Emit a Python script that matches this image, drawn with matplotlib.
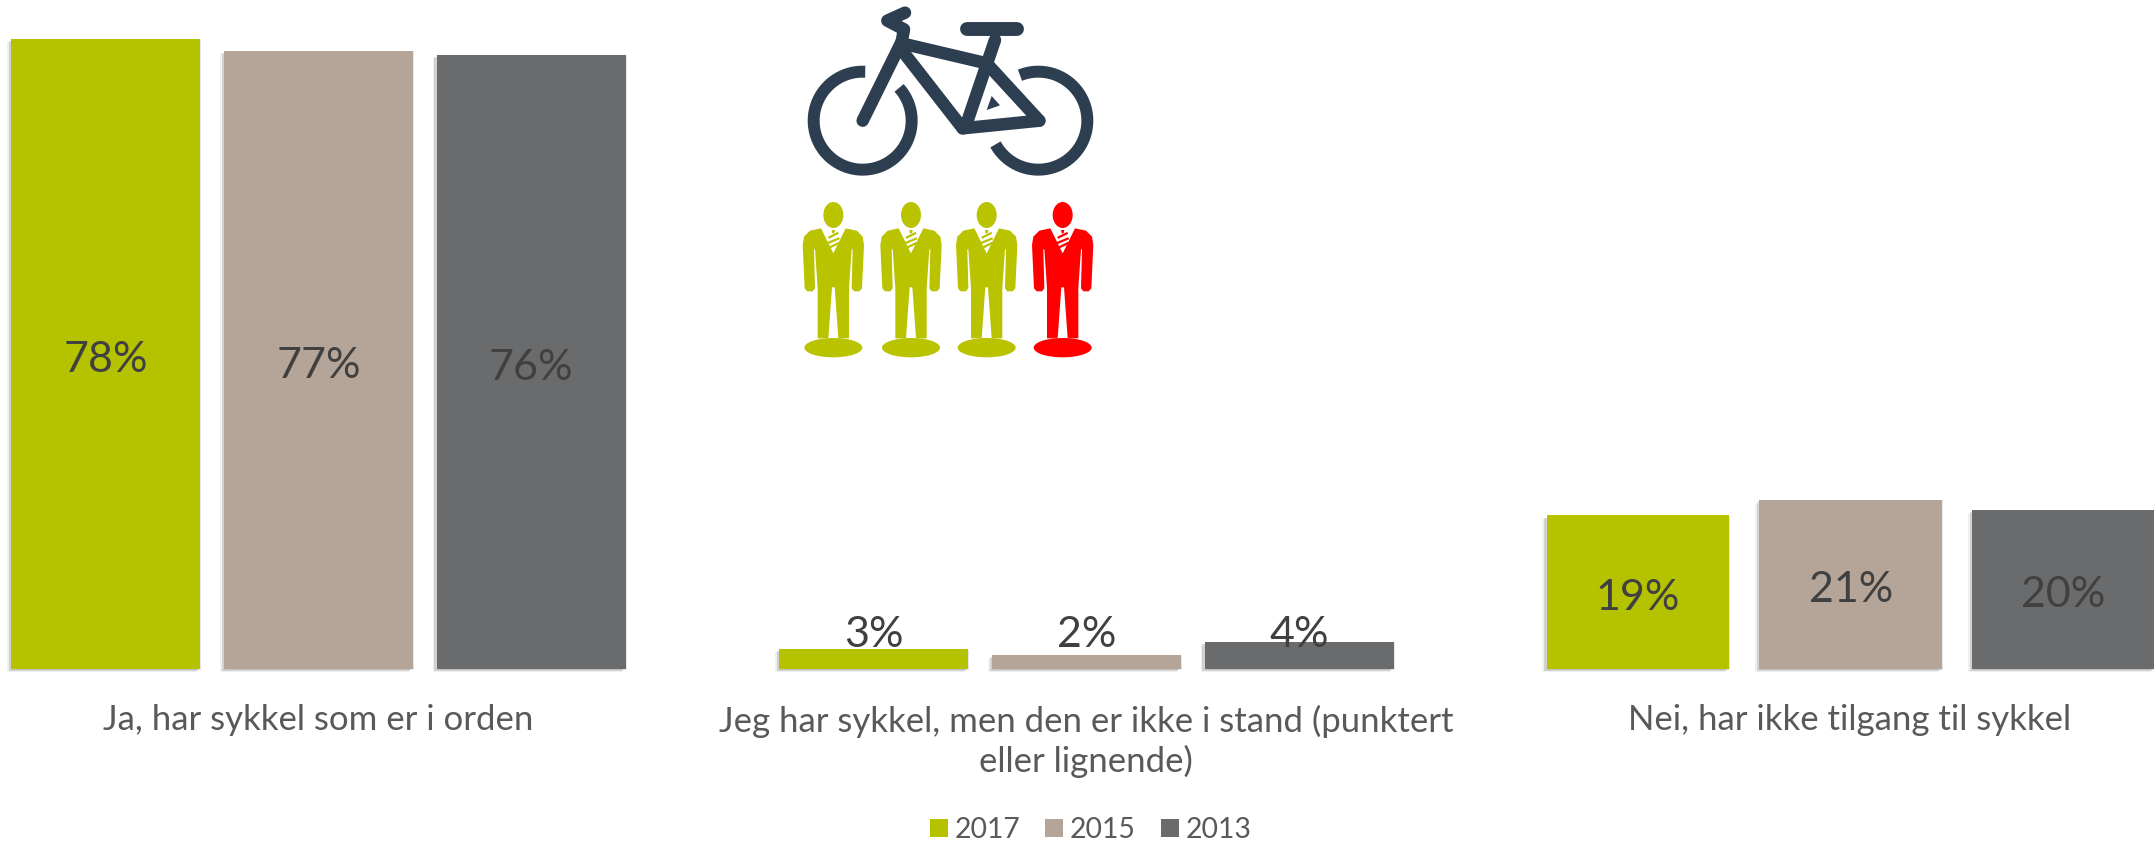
import numpy as np
import matplotlib
matplotlib.use("Agg")
import matplotlib.pyplot as plt
import matplotlib.patheffects as pe
from matplotlib.patches import Ellipse, Polygon, Rectangle

plt.rcParams["font.family"] = ["Lato", "DejaVu Sans"]

kategorier = ["Ja, har sykkel som er i orden",
              "Jeg har sykkel, men den er ikke i stand (punktert\neller lignende)",
              "Nei, har ikke tilgang til sykkel"]
aar = ["2017", "2015", "2013"]
verdier_2017 = [78, 2.5, 19]
verdier_2015 = [76.5, 1.7, 20.9]
verdier_2013 = [76, 3.4, 19.7]
etiketter_2017 = ["78%", "3%", "19%"]
etiketter_2015 = ["77%", "2%", "21%"]
etiketter_2013 = ["76%", "4%", "20%"]
farger = ["#B5C200", "#B5A598", "#6A6B6D"]

GRONN = "#B9C300"
ROD = "#FF0000"
BLA = "#2C3E50"

fig = plt.figure(figsize=(21.54, 8.44), dpi=100)

# stolpene
ax = fig.add_axes([0, 1 - 669 / 844, 1, 669 / 844])
ax.set_xlim((0 - 318.5) / 768, (2154 - 318.5) / 768)
ax.set_ylim(0, 669 / 8.08)
ax.axis("off")

posisjoner = np.array([0, 1, 1.995])
bredder = [0.246, 0.246, 0.238]
skygge = [pe.SimplePatchShadow(offset=(-3, -2.5), shadow_rgbFace="#888888", alpha=0.12),
          pe.SimplePatchShadow(offset=(-1.8, -1.6), shadow_rgbFace="#777777", alpha=0.25),
          pe.SimplePatchShadow(offset=(0.8, -0.8), shadow_rgbFace="#888888", alpha=0.2),
          pe.Normal()]

serier = [verdier_2017, verdier_2015, verdier_2013]
etiketter = [etiketter_2017, etiketter_2015, etiketter_2013]
for i, (verdier, tekst) in enumerate(zip(serier, etiketter)):
    x = posisjoner + (i - 1) * 0.277
    stolper = ax.bar(x, verdier, width=bredder, color=farger[i], zorder=2, clip_on=False)
    for s in stolper:
        s.set_path_effects(skygge)
    for j in range(3):
        y = 4.2 if j == 1 else verdier[j] / 2 - 0.7
        ax.text(x[j], y, tekst[j], ha="center", va="center", fontsize=31,
                color="#404040", zorder=3)

# resten tegnes i pikselkoordinater
ov = fig.add_axes([0, 0, 1, 1])
ov.set_xlim(0, 2154)
ov.set_ylim(844, 0)
ov.axis("off")
ov.patch.set_alpha(0)

ov.text(318, 720, kategorier[0], ha="center", va="center", fontsize=25, color="#595959")
ov.text(1086, 741, kategorier[1], ha="center", va="center", fontsize=25, color="#595959",
        linespacing=1.25)
ov.text(1850, 720, kategorier[2], ha="center", va="center", fontsize=25, color="#595959")

# tegnforklaring
for navn, farge, xs, xt in zip(aar, farger, [930, 1045, 1161], [955, 1070, 1186]):
    ov.add_patch(Rectangle((xs, 819), 18, 18, color=farge, lw=0))
    ov.text(xt, 830, navn, ha="left", va="center", fontsize=20.4, color="#595959")


def bx(p):
    return 770 + p[0] / 3


def by(p):
    return p[1] / 3


def linje(punkter, lw=9, cap="round"):
    xs = [bx(p) for p in punkter]
    ys = [by(p) for p in punkter]
    ov.plot(xs, ys, color=BLA, lw=lw, solid_capstyle=cap, solid_joinstyle="round")


def hjul(cx, cy, r, a0, a1):
    a = np.radians(np.linspace(a0, a1, 80))
    linje(list(zip(cx + r * np.cos(a), cy + r * np.sin(a))), lw=8.6, cap="butt")


# sykkel
hjul(278, 362, 147, -87, -402)
hjul(805, 362, 147, -112, 151)
linje([(278, 362), (395, 125)])
linje([(405, 38), (352, 62), (402, 88), (395, 125)])
linje([(395, 130), (650, 190)])
linje([(590, 370), (675, 120)])
linje([(592, 88), (740, 88)], lw=10)
linje([(395, 150), (578, 385)])
linje([(578, 385), (808, 362)])
linje([(650, 190), (808, 362)])
ov.add_patch(Polygon([(bx(p), by(p)) for p in [(665, 288), (690, 316), (650, 330)]],
                     color=BLA, lw=0))

# figurer
halv = [(-37, 115), (-70, 122), (-88, 140), (-92, 165), (-86, 295), (-78, 304), (-62, 304),
        (-55, 295), (-58, 178), (-55, 178), (-47, 295), (-47, 445), (-15, 445), (-4, 292)]
kropp = halv + [(-dx, y) for dx, y in reversed(halv)] + [(0, 190)]
striper = [(-12, 142, 12, 130), (-14, 158, 15, 146), (-10, 172, 14, 160)]


def person(midt, farge):
    def px(dx):
        return 780 + (midt + dx) / 3

    def py(y):
        return 190 + y / 3

    ov.add_patch(Ellipse((px(0), py(75)), 60 / 3, 78 / 3, color=farge, lw=0))
    ov.add_patch(Ellipse((px(0), py(473)), 174 / 3, 58 / 3, color=farge, lw=0))
    ov.add_patch(Polygon([(px(dx), py(y)) for dx, y in kropp], color=farge, lw=0))
    ov.add_patch(Polygon([(px(dx), py(y)) for dx, y in [(-5, 120), (5, 120), (3, 130), (-3, 130)]],
                         color=farge, lw=0))
    for x0, y0, x1, y1 in striper:
        ov.plot([px(x0), px(x1)], [py(y0), py(y1)], color=farge, lw=1.6)


for midt, farge in zip([160, 393, 620, 848], [GRONN, GRONN, GRONN, ROD]):
    person(midt, farge)

fig.savefig("out.png", dpi=100)
